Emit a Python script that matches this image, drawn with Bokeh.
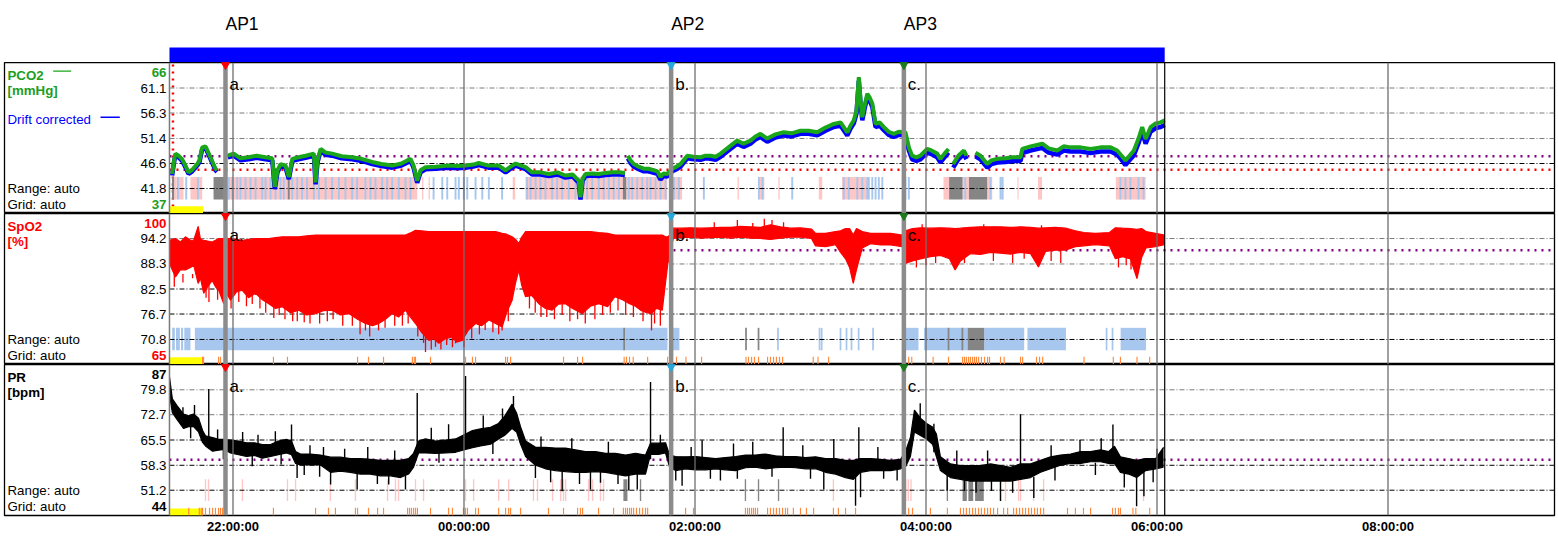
import math
from bokeh.plotting import figure
from bokeh.layouts import column
from bokeh.models import Range1d, Span, FixedTicker
from bokeh.core.properties import value
from bokeh.embed import file_html
from bokeh.resources import INLINE

nan = float("nan")

# ---------------- time axis (minutes relative to 22:00:00) ----------------
tick_min = [0, 120, 240, 360, 480, 600]
tick_lbl = ["22:00:00", "00:00:00", "02:00:00", "04:00:00", "06:00:00", "08:00:00"]
rec_start = -33.0
rec_end = 484.0
ap_name = ["AP1", "AP2", "AP3"]
ap_min = [-3.9, 227.6, 348.5]
ap_mark = ["a.", "b.", "c."]
ap_color = ["#FF0000", "#2AA8DC", "#1E7A1E"]

# ---------------- y axes ----------------
pco2_range = [37, 66]
pco2_ticks = [61.1, 56.3, 51.4, 46.6, 41.8]
pco2_tick_lbl = ["61.1", "56.3", "51.4", "46.6", "41.8"]
spo2_range = [65, 100]
spo2_ticks = [94.2, 88.3, 82.5, 76.7, 70.8]
spo2_tick_lbl = ["94.2", "88.3", "82.5", "76.7", "70.8"]
pr_range = [44, 87]
pr_ticks = [79.8, 72.7, 65.5, 58.3, 51.2]
pr_tick_lbl = ["79.8", "72.7", "65.5", "58.3", "51.2"]

pco2_purple = 48.0
pco2_red = 45.4
pco2_red_t = -31.2
spo2_purple = 91.5
pr_purple = 59.9

# ---------------- PCO2 (mmHg) ----------------
pco2_t = [-31.6, -30.6, -29.9, -28.3, -26.4, -24.7, -23.1, -21.2, -18.6, -17.4, -16.0, -14.3, -11.7, -9.1, -8.3, -5.5,
          -2.7, 0.3, 3.9, 8.1, 12.2, 16.9, 20.4, 21.7, 23.1, 24.7, 27.3, 29.0, 30.8, 34.0, 37.7, 42.0, 42.9, 43.9,
          45.5, 48.1, 51.5, 56.4, 61.9, 66.8, 72.3, 77.1, 82.7, 87.5, 92.2, 93.8, 95.7, 97.4, 100.0, 105.2, 112.1,
          116.6, 120.8, 124.9, 127.7, 132.7, 138.1, 141.6, 144.2, 146.8, 152.0, 155.4, 159.7, 164.1, 168.6, 172.7,
          176.4, 179.6, 180.5, 181.6, 183.1, 186.7, 190.0, 193.5, 197.2, 200.8, 203.6, 204.4, 205.1, 206.5, 208.2,
          210.7, 213.4, 215.8, 218.6, 220.5, 222.1, 223.6, 225.6, 228.2, 230.4, 232.5, 236.0, 239.2, 242.9, 245.5,
          248.1, 250.7, 253.3, 257.4, 261.9, 265.2, 268.8, 271.4, 274.0, 277.5, 281.8, 286.1, 290.1, 294.8, 299.0,
          303.5, 307.8, 312.1, 315.6, 319.1, 320.8, 322.5, 323.9, 325.1, 326.0, 326.9, 328.1, 329.5, 330.7, 332.1,
          333.8, 335.9, 338.1, 340.6, 343.3, 345.8, 349.3, 351.1, 352.8, 355.0, 357.1, 360.6, 362.8, 365.8, 367.5,
          369.6, 371.7, 372.9, 374.1, 376.8, 379.7, 381.0, 382.3, 383.6, 384.5, 385.7, 388.3, 391.8, 394.0, 397.0,
          401.3, 405.0, 409.1, 410.0, 414.3, 420.4, 423.7, 428.2, 431.5, 435.1, 440.3, 445.5, 450.7, 455.9, 459.3,
          461.6, 463.6, 465.7, 468.0, 470.4, 472.3, 474.1, 476.7, 479.3, 481.9, 484.0]
pco2_val = [44.6, 47.2, 48.5, 48.1, 47.4, 46.2, 44.9, 45.4, 46.5, 47.2, 49.7, 49.9, 47.8, 45.6, 45.3, nan,
            48.1, 48.5, 47.6, 47.8, 48.1, 47.8, 47.6, 42.1, 45.3, 46.5, 46.2, 44.0, 47.5, 47.8, 48.1, 48.5, 43.0, 47.2,
            49.4, 48.7, 48.5, 48.0, 47.8, 47.5, 46.9, 46.5, 46.2, 46.6, 47.5, 46.2, 43.3, 45.3, 45.9, 46.0, 46.2,
            46.1, 46.2, 46.4, 46.7, 46.2, 46.2, 45.3, 46.0, 46.6, 45.9, 44.9, 44.9, 44.6, 44.9, 44.3,
            44.5, 43.3, 40.1, 43.7, 44.6, 44.7, 44.6, 44.8, 44.9, 44.9, 44.8, nan, 48.1, 47.2, 46.5,
            46.0, 45.6, 45.6, 45.3, 45.1, 44.0, 44.7, 44.6, 45.6, 46.0, 46.5, 48.1, 47.9, 47.8, 48.1,
            48.1, 47.9, 48.5, 49.7, 51.0, 50.4, 51.0, 51.8, 52.3, 51.4, 52.2, 52.6, 52.4, 52.9, 52.9,
            52.6, 53.5, 54.2, 54.5, 52.6, 53.9, 54.9, 56.8, 63.2, 58.7, 55.5, 57.7, 60.0, 59.3, 58.1,
            54.2, 54.5, 53.6, 52.7, 52.3, 52.7, 52.6, 49.7, 48.1, 47.8, 48.1, 49.4, 49.1, 48.5, 47.5,
            48.5, 49.4, nan, 46.5, 48.1, 49.1, 48.1, nan, 47.2, nan, 48.7, 48.1, 46.5, 47.2, 47.5,
            47.6, 47.8, 47.8, 49.4, 49.9, 50.4, 49.5, 49.1, 49.9, 49.7, 49.7, 49.4, 49.7, 49.7, 49.1,
            48.1, 47.2, 48.1, 49.1, 51.4, 53.6, 51.3, 53.6, 54.3, 54.5, 54.9]
pco2_drift_corr = [44.3, 46.9, 48.2, 47.8, 47.1, 45.9, 44.6, 45.1, 46.2, 46.9, 49.4, 49.6, 47.5, 45.3, 45.0, nan,
                   47.8, 48.1, 47.2, 47.4, 47.7, 47.4, 47.2, 41.7, 44.9, 46.1, 45.8, 43.6, 47.1, 47.4, 47.7, 48.1, 42.6, 46.8,
                   49.0, 48.3, 48.1, 47.6, 47.4, 47.1, 46.5, 46.1, 45.8, 46.2, 47.1, 45.8, 42.9, 44.9, 45.5, 45.6, 45.8,
                   45.7, 45.8, 46.0, 46.3, 45.8, 45.8, 44.9, 45.6, 46.2, 45.5, 44.5, 44.5, 44.2, 44.5, 43.9,
                   44.1, 42.9, 39.7, 43.3, 44.2, 44.3, 44.2, 44.4, 44.5, 44.5, 44.4, nan, 47.6, 46.7, 46.0,
                   45.5, 45.1, 45.1, 44.8, 44.6, 43.5, 44.2, 44.1, 45.1, 45.5, 46.0, 47.6, 47.4, 47.3, 47.6,
                   47.5, 47.3, 47.9, 49.1, 50.4, 49.8, 50.4, 51.2, 51.7, 50.8, 51.6, 52.0, 51.8, 52.3, 52.3,
                   52.0, 52.9, 53.6, 53.9, 52.0, 53.3, 54.3, 56.2, 62.5, 58.1, 54.9, 57.1, 59.4, 58.7, 57.5,
                   53.6, 53.9, 53.0, 52.1, 51.7, 52.1, 52.0, 49.1, 47.4, 47.1, 47.4, 48.7, 48.4, 47.8, 46.8,
                   47.8, 48.7, nan, 45.8, 47.4, 48.4, 47.4, nan, 46.5, nan, 48.0, 47.4, 45.8, 46.5, 46.8,
                   46.9, 47.1, 47.1, 48.6, 49.1, 49.6, 48.7, 48.3, 49.1, 48.9, 48.9, 48.6, 48.9, 48.9, 48.3,
                   47.3, 46.3, 47.2, 48.2, 50.5, 52.7, 50.4, 52.7, 53.4, 53.6, 54.0]

# ---------------- SpO2 (%) envelope ----------------
spo2_t = [-33.0, -29.9, -27.3, -24.7, -22.1, -20.4, -18.1, -16.9, -15.2, -13.2, -10.8, -9.1, -7.4, -4.8, -3.4, -1.3,
          1.8, 4.8, 8.1, 11.7, 15.3, 18.6, 22.1, 25.6, 29.9, 34.2, 38.2, 42.9, 47.0, 51.5, 55.8, 60.2, 64.7, 68.8,
          72.5, 75.7, 79.2, 82.7, 86.0, 89.6, 92.2, 94.8, 97.9, 101.7, 104.2, 106.9, 110.4, 113.9, 116.1, 119.1,
          122.3, 126.0, 129.1, 132.9, 136.4, 139.8, 142.1, 145.0, 146.8, 148.5, 149.9, 152.0, 155.1, 158.9, 162.3,
          165.8, 169.1, 172.7, 176.4, 181.4, 185.7, 190.0, 194.6, 198.4, 202.3, 206.0, 209.1, 211.7, 214.8, 217.4,
          220.0, 223.0, 224.7, 225.9, 227.8, 228.7, 232.5, 237.7, 242.9, 248.1, 253.3, 258.5, 263.7, 268.8, 274.0,
          279.2, 284.4, 289.6, 294.8, 300.5, 302.6, 307.8, 313.0, 315.6, 318.2, 320.3, 322.2, 323.9, 326.9, 331.2,
          336.4, 341.6, 347.7, 349.3, 353.0, 357.1, 362.3, 367.5, 372.2, 375.1, 377.9, 383.1, 388.3, 393.5, 398.7,
          403.9, 409.1, 414.3, 418.4, 422.1, 427.2, 432.4, 437.6, 442.1, 448.0, 455.3, 458.4, 462.1, 466.2, 469.6,
          472.0, 474.3, 479.2, 483.9]
spo2_hi = [93.8, 94.2, 93.4, 94.6, 93.8, 93.8, 97.0, 94.0, 93.8, 93.6, 93.4, 93.8, 94.2, 94.2, 94.2, 94.2,
           94.0, 93.8, 94.0, 94.2, 94.2, 94.2, 94.4, 94.6, 94.6, 94.6, 94.8, 95.0, 95.0, 95.0, 95.0, 95.0, 95.0, 95.0,
           95.0, 95.0, 95.0, 95.0, 95.0, 95.0, 95.5, 96.1, 96.0, 95.8, 95.8, 95.8, 95.8, 95.8, 95.8, 95.8,
           95.8, 95.8, 95.8, 95.8, 95.8, 95.4, 95.2, 94.6, 94.0, 93.0, 94.5, 95.8, 95.8, 95.8, 95.8,
           95.8, 95.8, 95.8, 95.8, 95.8, 95.8, 95.6, 95.4, 95.0, 95.0, 95.0, 95.0, 95.0, 95.0, 95.0,
           95.0, 95.0, 94.6, 94.6, 95.4, 96.6, 96.6, 96.7, 96.6, 96.7, 96.8, 96.8, 97.0, 96.9, 96.8,
           97.4, 96.9, 96.6, 96.7, 96.4, 95.4, 95.4, 95.8, 96.0, 96.5, 96.5, 95.0, 96.5, 95.8, 95.4,
           95.4, 95.4, 95.0, 96.0, 96.5, 96.7, 96.6, 96.7, 96.6, 96.5, 96.6, 96.8, 96.9, 96.9, 96.9,
           96.8, 96.9, 96.8, 96.6, 96.7, 96.8, 96.6, 96.0, 95.6, 95.4, 95.6, 96.7, 96.6, 96.5, 96.3,
           96.5, 95.8, 95.4, 95.0]
spo2_lo = [88.4, 85.3, 87.0, 86.9, 87.5, 88.0, 83.8, 85.0, 81.5, 83.0, 84.5, 83.0, 82.2, 79.1, 81.5, 79.9,
           81.8, 82.2, 80.5, 81.5, 80.0, 79.1, 78.0, 78.4, 77.0, 77.6, 76.5, 76.8, 77.5, 77.6, 76.5, 76.8, 75.5, 74.5,
           74.0, 74.5, 75.5, 76.8, 76.0, 77.6, 76.0, 74.5, 72.5, 70.6, 71.0, 69.9, 71.0, 71.4, 70.2, 70.6,
           73.0, 74.5, 74.0, 75.3, 74.5, 73.7, 77.0, 79.9, 84.0, 86.9, 83.5, 80.7, 81.0, 79.1, 78.0,
           77.6, 79.0, 79.1, 78.0, 76.8, 78.5, 79.1, 78.4, 80.7, 80.0, 79.1, 78.5, 77.6, 77.0, 76.8,
           78.0, 77.6, 84.0, 88.4, 92.3, 94.2, 94.4, 94.5, 94.3, 94.4, 94.5, 94.3, 94.5, 94.3, 94.2,
           94.0, 94.3, 94.5, 94.5, 94.2, 92.5, 92.3, 92.8, 91.0, 89.5, 87.5, 83.8, 87.0, 92.0, 93.0,
           92.7, 92.7, 92.3, 88.4, 89.0, 89.5, 90.0, 90.3, 89.5, 86.9, 89.0, 90.7, 90.5, 91.0, 90.8,
           90.6, 91.0, 90.7, 87.6, 91.2, 91.5, 91.5, 92.3, 92.5, 92.8, 92.5, 89.5, 90.0, 89.5, 84.9,
           89.8, 92.0, 92.3, 92.8]
# deep desaturation spikes before AP2 (drawn down from the body of the trace)
spo2_spike_t = [-30.5, -26.0, -21.0, -14.0, -12.5, -8.0, -1.0, 3.0, 7.0, 10.0, 14.0, 17.0, 21.2, 24.0, 27.0, 31.0,
                33.4, 37.0, 40.0, 45.0, 49.0, 52.0, 57.0, 62.0, 66.0, 68.8, 71.0, 75.6, 79.0, 84.0, 88.0, 91.0,
                96.0, 99.0, 100.0, 103.0, 105.2, 108.0, 111.0, 114.0, 115.6, 117.1, 120.0, 124.0, 128.0, 131.0,
                135.0, 138.0, 139.8, 143.0, 154.0, 157.0, 160.0, 163.0, 167.0, 171.0, 175.0, 179.0, 183.0, 188.0,
                192.0, 196.0, 200.0, 204.0, 208.0, 213.0, 217.4, 219.0, 222.0]
spo2_spike_min = [83.0, 84.0, 85.0, 80.5, 79.5, 80.0, 78.0, 79.5, 78.5, 79.0, 78.0, 77.0, 75.8, 76.5, 75.5, 75.0,
                  75.0, 74.8, 74.5, 74.5, 75.0, 75.5, 74.0, 74.0, 72.0, 72.9, 71.5, 72.9, 73.5, 74.0, 74.0, 74.5,
                  71.5, 70.0, 67.9, 68.5, 69.1, 68.5, 69.5, 69.0, 69.9, 70.3, 69.0, 71.0, 72.0, 73.0,
                  72.5, 72.0, 72.9, 75.0, 78.0, 77.0, 76.0, 76.0, 75.5, 76.5, 75.0, 75.5, 74.5, 75.5,
                  76.5, 77.0, 77.5, 76.5, 76.0, 75.0, 72.9, 74.5, 74.0]
# short dips / peaks after AP2
spo2_dip_t = [355.0, 360.0, 365.0, 380.0, 395.0, 405.0, 411.0, 425.0, 430.0, 460.0, 464.0, 466.5]
spo2_dip_min = [87.5, 88.0, 88.5, 88.5, 89.0, 88.5, 89.5, 89.0, 88.5, 87.5, 88.0, 87.0]
spo2_peak_t = [250.0, 262.0, 270.0, 276.0, 280.0, 286.0, 358.0, 390.0, 420.0]
spo2_peak_max = [98.0, 98.5, 97.8, 98.8, 98.5, 98.0, 97.5, 97.5, 97.3]

# ---------------- PR (bpm) envelope ----------------
pr_t = [-33.0, -31.5, -29.0, -25.7, -23.1, -20.5, -17.9, -15.8, -14.3, -10.6, -7.5, -4.4, -1.3, 2.9, 7.0, 11.2,
        15.3, 19.5, 23.6, 27.8, 30.4, 32.5, 35.1, 40.3, 45.5, 50.7, 55.8, 61.0, 66.2, 71.4, 76.6, 81.8, 87.0,
        91.2, 93.8, 96.4, 100.0, 105.2, 110.4, 115.6, 120.8, 124.4, 128.6, 133.8, 137.9, 141.0, 145.0, 147.3,
        149.4, 152.0, 157.2, 162.3, 167.5, 172.7, 177.9, 183.1, 188.3, 193.5, 198.7, 203.9, 209.1, 214.3, 216.9,
        221.0, 224.7, 226.8, 229.9, 235.1, 240.3, 245.5, 250.7, 255.9, 261.1, 266.3, 271.4, 276.6, 281.8, 287.0,
        292.2, 297.4, 302.6, 307.8, 313.0, 318.2, 322.3, 325.9, 331.2, 336.4, 341.6, 346.8, 349.3, 351.9, 354.0,
        357.1, 360.3, 363.4, 365.4, 367.5, 372.7, 377.9, 383.1, 388.3, 393.5, 398.7, 403.9, 409.1, 414.3, 419.5,
        424.7, 429.9, 435.1, 440.3, 445.5, 450.7, 454.8, 457.9, 461.0, 465.2, 469.4, 474.1, 479.3, 483.4]
pr_hi = [83.5, 77.2, 75.2, 72.9, 72.4, 72.9, 71.7, 68.2, 66.7, 66.2, 65.7, 65.7, 65.5, 65.2, 64.7, 64.7,
         64.2, 64.2, 65.2, 65.7, 65.2, 62.2, 61.5, 61.5, 61.2, 60.6, 60.6, 60.2, 60.2, 60.0, 59.7, 59.7, 59.7,
         60.2, 61.7, 65.2, 65.8, 65.2, 65.5, 65.8, 67.2, 68.2, 68.7, 69.1, 70.2, 72.2, 75.7, 73.2,
         69.2, 65.2, 63.4, 63.4, 63.2, 63.2, 62.7, 62.2, 62.2, 61.7, 61.7, 61.2, 61.7, 61.2, 64.6,
         64.6, 64.7, 61.2, 60.8, 60.7, 60.8, 60.5, 60.2, 60.5, 60.8, 61.2, 61.2, 61.5, 61.0, 60.8,
         60.8, 60.5, 60.7, 60.2, 60.2, 59.7, 59.7, 60.2, 60.2, 60.0, 59.7, 60.0, 62.2, 66.2, 74.0,
         71.7, 70.2, 69.2, 67.2, 60.7, 58.7, 58.2, 58.2, 58.2, 58.7, 58.2, 57.7, 58.7, 58.7, 59.7,
         60.7, 61.2, 61.5, 62.2, 62.2, 62.7, 62.2, 63.7, 60.7, 60.2, 59.7, 60.2, 60.2, 63.4]
pr_lo = [78.5, 73.3, 71.3, 68.8, 69.3, 69.3, 67.8, 64.8, 63.8, 62.3, 62.6, 62.8, 61.8, 61.3, 60.8, 61.1,
         60.3, 60.8, 61.3, 61.8, 61.3, 58.8, 58.4, 58.4, 58.4, 56.3, 56.6, 56.3, 55.8, 55.8, 55.3, 55.3, 54.8,
         55.8, 57.8, 61.8, 61.8, 61.7, 61.8, 62.0, 62.8, 63.3, 63.8, 64.3, 65.8, 66.8, 68.8, 67.8,
         64.3, 60.8, 58.3, 57.3, 56.8, 56.5, 56.3, 56.3, 56.5, 56.3, 55.8, 55.3, 55.8, 55.8, 61.4,
         61.4, 61.8, 57.8, 56.8, 57.3, 57.0, 57.0, 57.3, 57.0, 56.8, 57.6, 57.8, 57.3, 57.6, 57.8,
         57.6, 57.3, 57.3, 56.3, 55.8, 54.8, 54.3, 56.3, 56.8, 56.8, 56.8, 57.3, 57.8, 60.8, 67.8,
         66.8, 65.8, 64.3, 60.8, 56.8, 54.8, 54.3, 53.8, 53.8, 53.8, 53.8, 53.8, 54.3, 54.8, 56.3,
         57.3, 58.3, 58.8, 58.8, 59.3, 59.3, 58.8, 58.8, 56.3, 55.8, 54.8, 56.8, 57.3, 57.8]
pr_spike_t = [-26.0, -12.6, 30.4, 95.7, 120.8, 145.7, 216.9, 243.7, 285.8, 312.1, 325.1, 364.1, 409.1, 457.1,
              33.3, 37.0, 50.7, 64.5, 80.9, 89.6, 157.1, 171.0, 185.7, 190.9, 205.6, 210.0, 233.3, 253.2, 306.9,
              319.1, 323.4, 326.0, 371.0, 398.7, 416.0, 469.4, 473.2,
              -20.0, -8.0, 5.0, 13.0, 22.0, 40.0, 47.0, 58.0, 70.0, 84.0, 103.0, 112.0, 130.0, 140.0, 160.0,
              176.0, 195.0, 222.0, 238.0, 260.0, 270.0, 296.0, 335.0, 357.0, 376.0, 392.0, 425.0, 440.0, 451.0,
              480.0,
              -22.0, -5.0, 10.0, 25.0, 45.0, 75.0, 107.0, 135.0, 165.0, 180.0, 200.0, 230.0, 248.0, 262.0, 280.0,
              300.0, 338.0, 345.0, 380.0, 386.0, 394.0, 405.0, 427.0, 448.0, 463.0, 478.0]
pr_spike_peak = [74.8, 80.0, 69.9, 78.9, 83.7, 78.0, 82.0, 65.4, 69.1, 65.8, 69.1, 70.1, 72.8, 69.9,
                 54.7, 55.5, 52.8, 51.4, 52.8, 51.4, 54.7, 50.9, 51.4, 53.3, 51.1, 51.4, 52.5, 54.0, 51.4,
                 55.4, 46.8, 49.2, 51.1, 48.1, 49.0, 46.6, 49.5,
                 75.5, 68.5, 67.8, 67.0, 68.0, 64.0, 63.5, 63.0, 63.5, 62.5, 69.0, 70.0, 72.5, 74.5, 66.5,
                 66.0, 65.0, 67.0, 63.5, 64.5, 65.0, 64.0, 63.5, 76.0, 62.5, 62.5, 64.0, 65.5, 66.0,
                 63.0,
                 66.0, 60.0, 58.0, 58.5, 55.0, 53.0, 59.0, 61.5, 53.5, 53.0, 53.0, 54.0, 54.5, 54.5, 55.0,
                 54.5, 54.5, 54.0, 51.0, 50.5, 51.0, 50.5, 54.0, 55.5, 52.0, 53.5]
pr_spike_base = [70.0, 65.0, 63.0, 62.0, 64.0, 70.0, 60.0, 59.0, 59.0, 58.0, 58.0, 62.0, 56.0, 60.0,
                 60.0, 60.0, 58.0, 58.0, 57.0, 57.0, 60.0, 58.0, 58.0, 58.0, 58.0, 58.0, 58.0, 58.0, 58.0,
                 58.0, 57.0, 57.0, 56.0, 55.0, 55.0, 56.0, 57.0,
                 71.0, 64.0, 63.0, 62.5, 63.0, 60.0, 59.0, 58.0, 58.0, 57.5, 64.0, 64.0, 66.0, 68.0, 60.0,
                 59.5, 59.0, 63.0, 59.0, 59.0, 59.5, 59.0, 58.5, 70.0, 56.5, 56.0, 59.0, 60.5, 61.0,
                 58.5,
                 70.0, 63.5, 62.0, 62.0, 59.0, 57.0, 63.0, 65.0, 58.0, 57.0, 57.0, 58.0, 58.0, 58.0, 58.0,
                 58.0, 58.0, 58.0, 55.0, 55.0, 55.0, 55.0, 58.0, 59.0, 57.0, 57.5]

# ---------------- event marks ----------------
ev1_start = [-30.6, -28.3, -22.1, -17.7, -3.0, 29.5, 98.2, 101.6, 145.3, 151.9, 204.3, 228.2, 262.1, 273.5, 283.3,
             304.3, 316.4, 369.1, 379.0, 391.8, 399.6, 407.5, 418.2, 458.6,
             -31.7, -10.1, 28.4, 202.5, 372.0, 382.3]
ev1_end = [-29.2, -25.7, -18.6, -16.0, 28.4, 95.7, 98.9, 102.3, 146.6, 202.5, 225.6, 233.3, 262.8, 276.0, 284.0,
           306.1, 329.3, 372.0, 382.3, 394.4, 400.4, 408.1, 420.3, 474.1,
           -30.6, -3.9, 29.5, 204.3, 379.0, 391.8]
ev1_kind = ["p"] * 24 + ["g"] * 6
ev1_blue = [-28.6, -24.3, -18.2, -2.2, -0.4, 2.2, 3.9, 6.5, 9.1, 11.7, 15.2, 16.9, 19.5, 22.1, 24.7, 26.4, 30.8,
            33.4, 35.9, 38.5, 42.0, 44.6, 48.1, 51.5, 55.0, 58.4, 61.9, 64.5, 68.8, 71.4, 74.0, 77.5, 80.1, 82.7,
            86.1, 89.6, 92.2, 104.2, 108.7, 111.3, 115.6, 117.3, 119.9, 121.7, 126.0, 129.5, 132.9, 139.8, 152.8,
            154.6, 157.2, 159.7, 162.3, 165.8, 168.4, 171.0, 174.4, 177.9, 181.4, 184.0, 186.6, 190.0, 192.6, 195.2,
            197.8, 200.4, 205.6, 207.4, 210.0, 212.6, 215.2, 216.9, 219.5, 222.1, 224.7, 229.0, 231.6, 244.6, 273.2,
            275.1, 290.5, 317.3, 319.9, 324.3, 326.9, 329.5, 330.3, 332.1, 333.8, 335.5, 337.3, 349.3, 351.1, 380.4,
            393.5, 398.7, 399.6, 461.0, 463.6, 466.2, 470.4, 473.0]
ev2_start = [-31.6, -29.6, -27.0, -25.3, -19.8, 227.3, 349.6, 359.0, 390.2, 412.7, 461.1, 381.6]
ev2_end = [-30.2, -27.6, -25.9, -22.1, 225.7, 231.9, 356.1, 381.6, 411.0, 432.7, 474.3, 390.2]
ev2_kind = ["b"] * 11 + ["g"]
ev2_thin = [283.1, 304.7, 305.8, 315.6, 318.7, 321.3, 325.0, 332.5, 453.8, 456.9, 203.2, 266.5, 273.0, 371.7, 378.9]
ev2_thin_kind = ["b"] * 10 + ["g"] * 5
ev3_start = [202.8, 379.0, 382.0, 385.5]
ev3_end = [204.9, 381.2, 384.5, 390.0]
ev3_kind = ["g", "g", "g", "g"]
ev3_thin = [-14.3, -12.7, 4.9, 28.3, 32.5, 50.6, 63.6, 80.3, 84.4, 86.0, 94.8, 99.0, 120.8, 125.0, 138.0, 143.2,
            156.1, 158.2, 166.0, 170.2, 171.7, 172.8, 184.7, 186.8, 190.9, 192.5, 311.9, 349.5, 350.8, 352.2, 398.7,
            401.3, 408.1, 409.1, 415.9, 421.1, 473.0, 211.7, 266.2, 273.0, 283.4, 371.1]
ev3_thin_kind = ["p"] * 37 + ["g"] * 5

art2 = [-15.8, -15.3, -7.5, -6.5, 21.0, 28.3, 64.7, 70.4, 78.2, 93.2, 94.2, 94.8, 102.6, 120.8, 124.4, 126.0, 141.6,
        142.6, 144.2, 171.7, 179.0, 181.6, 203.2, 204.4, 206.0, 207.9, 215.4, 225.8, 230.4, 235.3, 243.4, 266.5,
        267.8, 269.4, 270.9, 273.0, 277.7, 279.2, 280.8, 282.3, 283.9, 285.5, 301.4, 303.9, 309.4, 351.0, 352.6,
        363.7, 371.7, 379.0, 380.0, 381.0, 382.1, 383.1, 384.2, 385.2, 386.2, 387.3, 388.8, 390.4, 392.0, 393.0,
        398.7, 400.6, 409.1, 410.2, 417.4, 419.0, 420.6, 442.1, 457.3, 461.0, 469.6, 476.2]
art3 = [-23.0, -17.5, -16.5, -15.8, -14.3, -12.2, -10.6, -9.1, -7.5, -6.5, -5.5, 21.0, 42.9, 49.6, 53.2, 63.6, 64.7,
        70.4, 75.1, 78.2, 90.7, 91.7, 92.7, 93.8, 94.8, 95.8, 102.6, 112.0, 114.0, 119.7, 120.8, 121.8, 126.0,
        127.5, 138.0, 141.6, 143.2, 144.2, 149.4, 163.9, 171.7, 179.0, 180.5, 181.6, 189.9, 197.7, 202.8, 203.9,
        204.9, 206.0, 207.0, 208.1, 209.6, 211.2, 212.8, 214.3, 215.4, 227.3, 235.1, 239.2, 266.2, 267.3, 268.3,
        269.4, 270.4, 271.4, 272.5, 277.7, 279.2, 280.8, 282.3, 283.9, 285.5, 287.0, 288.1, 291.1, 294.8, 297.9,
        301.6, 311.9, 314.5, 318.2, 323.4, 349.3, 351.0, 353.0, 362.3, 371.1, 377.9, 379.5, 381.0, 382.6, 384.2,
        385.7, 387.3, 388.8, 390.4, 392.0, 393.5, 395.1, 397.2, 400.3, 402.4, 405.5, 407.0, 408.6, 410.2, 411.7,
        413.3, 414.8, 416.4, 417.9, 419.5, 421.1, 433.5, 437.6, 441.8, 445.5, 456.9, 458.4, 460.0, 461.0, 467.5,
        469.0, 476.2]
yellow_start, yellow_end = -33.0, -15.6

# ---------------- layout / style ----------------
ML = 4          # frame left (page px)
FW = 1550       # frame width
FH = 151        # panel frame height
X0, X1 = -118.70, 686.49
FONT = value("Liberation Sans")
GREEN_TXT = "#1E9E1E"
GREEN_LINE = "#1AA61A"
BLUE = "#0000FF"
RED = "#FF0000"
KIND_COL = {"p": "#FFC6C6", "b": "#A8C7EE", "g": "#858585"}
ORANGE = "#FF8A3D"
xr = Range1d(X0, X1)


def xo(px):
    return X0 + px * (X1 - X0) / FW


def yo(rng, px):
    lo, hi = rng
    return hi - px * (hi - lo) / FH


def make_fig(rng, h, axis=False):
    p = figure(width=ML + FW + 2, height=h, x_range=xr, y_range=Range1d(rng[0], rng[1]),
               output_backend="svg", toolbar_location=None,
               x_axis_location=("below" if axis else None), y_axis_location=None,
               min_border_left=ML, min_border_right=2, min_border_top=0,
               min_border_bottom=(25 if axis else 0))
    p.xgrid.visible = False
    p.ygrid.visible = False
    p.outline_line_color = "black"
    p.outline_line_width = 1.3
    p.background_fill_color = "white"
    p.border_fill_color = "white"
    return p


def grid_and_labels(p, rng, ticks, tick_lbl, grid_cols, name, unit, col, top_lbl, bot_lbl):
    n = len(ticks)
    p.segment(x0=[rec_start] * n, x1=[X1] * n, y0=ticks, y1=ticks, line_color=grid_cols,
              line_width=1, line_dash="5 2 1 2")
    p.text(x=[rec_start] * n, y=ticks, text=tick_lbl, x_offset=-3, text_font=FONT, text_font_size="13.3px",
           text_color="black", text_align=value("right"), text_baseline=value("middle"))
    p.text(x=[rec_start, rec_start], y=[yo(rng, 9.5), yo(rng, 142)], text=[top_lbl, bot_lbl], x_offset=-3,
           text_font=FONT, text_font_size="13.3px", text_font_style=value("bold"), text_color=col,
           text_align=value("right"), text_baseline=value("middle"))
    p.text(x=[X0, X0], y=[yo(rng, 12.5), yo(rng, 28)], text=[name, unit], x_offset=3, text_font=FONT,
           text_font_size="13.3px", text_font_style=value("bold"), text_color=col,
           text_baseline=value("middle"))
    p.text(x=[X0, X0], y=[yo(rng, 126), yo(rng, 142)], text=["Range: auto", "Grid: auto"], x_offset=3,
           text_font=FONT, text_font_size="13.3px", text_color="black", text_baseline=value("middle"))


def vlines(p, rng):
    for t in tick_min:
        p.add_layout(Span(location=t, dimension="height", line_color="#6E6E6E", line_width=1.3))
    p.add_layout(Span(location=rec_start, dimension="height", line_color="#7A7A7A", line_width=1.5))
    p.add_layout(Span(location=rec_end, dimension="height", line_color="black", line_width=1.2))
    for t in ap_min:
        p.add_layout(Span(location=t, dimension="height", line_color="#8C8C8C", line_width=4.5))
    p.scatter(x=ap_min, y=[yo(rng, 2.5)] * 3, marker="inverted_triangle", size=8, fill_color=ap_color,
              line_color=ap_color, level="overlay")
    p.text(x=ap_min, y=[yo(rng, 22)] * 3, text=ap_mark, x_offset=4, text_font=FONT, text_font_size="17px",
           text_color="black", text_baseline=value("alphabetic"), level="overlay")


# ---------------- top strip ----------------
top = figure(width=ML + FW + 2, height=62, x_range=xr, y_range=Range1d(0, 62), output_backend="svg",
             toolbar_location=None, x_axis_location=None, y_axis_location=None,
             min_border_left=ML, min_border_right=2, min_border_top=0, min_border_bottom=0)
top.outline_line_color = None
top.xgrid.visible = False
top.ygrid.visible = False
top.quad(left=[rec_start], right=[rec_end], bottom=[0], top=[15], fill_color=BLUE, line_color=None)
top.text(x=ap_min, y=[39] * 3, text=ap_name, text_font=FONT, text_font_size="17.5px", text_color="black",
         text_baseline=value("middle"))

# ---------------- panel 1: PCO2 ----------------
p1 = make_fig(pco2_range, FH)
p1.segment(x0=[pco2_red_t], x1=[pco2_red_t], y0=[37], y1=[66], line_color=RED, line_width=2.5, line_dash="2 5")
p1.quad(left=ev1_start, right=ev1_end, bottom=39.7, top=44.0,
        fill_color=[KIND_COL[k] for k in ev1_kind], line_color=None)
p1.vbar(x=ev1_blue, width=1.0, bottom=39.7, top=44.0, fill_color=KIND_COL["b"], line_color=None)
p1.quad(left=[yellow_start], right=[yellow_end], bottom=37, top=38.4, fill_color="#FFFF00", line_color=None)
grid_and_labels(p1, pco2_range, pco2_ticks, pco2_tick_lbl, ["#7A7A7A"] * 3 + ["black"] * 2,
                "PCO2", "[mmHg]", GREEN_TXT, "66", "37")
p1.segment(x0=[rec_start, rec_start], x1=[X1, X1], y0=[pco2_purple, pco2_red], y1=[pco2_purple, pco2_red],
           line_color=["#800080", RED], line_width=2.5, line_dash="2 5")
p1.line(pco2_t, pco2_drift_corr, line_color=BLUE, line_width=4.5)
p1.line(pco2_t, pco2_val, line_color=GREEN_LINE, line_width=4)
p1.text(x=[X0], y=[yo(pco2_range, 57)], text=["Drift corrected"], x_offset=3, text_font=FONT,
        text_font_size="13.3px", text_color=BLUE, text_baseline=value("middle"))
p1.segment(x0=[xo(48.7)], x1=[xo(66.7)], y0=[yo(pco2_range, 8.7)], y1=[yo(pco2_range, 8.7)],
           line_color=GREEN_LINE, line_width=1.2)
p1.segment(x0=[xo(96)], x1=[xo(115.3)], y0=[yo(pco2_range, 54.7)], y1=[yo(pco2_range, 54.7)],
           line_color=BLUE, line_width=1.5)
vlines(p1, pco2_range)

# ---------------- panel 2: SpO2 ----------------
p2 = make_fig(spo2_range, FH)
p2.quad(left=ev2_start, right=ev2_end, bottom=68.3, top=73.5,
        fill_color=[KIND_COL[k] for k in ev2_kind], line_color=None)
p2.vbar(x=ev2_thin, width=0.9, bottom=68.3, top=73.5, fill_color=[KIND_COL[k] for k in ev2_thin_kind],
        line_color=None)
p2.quad(left=[yellow_start], right=[yellow_end], bottom=65, top=66.7, fill_color="#FFFF00", line_color=None)
p2.vbar(x=art2, width=0.6, bottom=65, top=66.8, fill_color=ORANGE, line_color=None)
grid_and_labels(p2, spo2_range, spo2_ticks, spo2_tick_lbl, ["#7A7A7A"] * 2 + ["black"] * 3,
                "SpO2", "[%]", RED, "100", "65")
p2.segment(x0=[rec_start], x1=[X1], y0=[spo2_purple], y1=[spo2_purple], line_color="#800080",
           line_width=2.5, line_dash="2 5")
p2.varea(x=spo2_t, y1=spo2_lo, y2=spo2_hi, fill_color=RED)
p2.line(spo2_t, spo2_lo, line_color=RED, line_width=1.2)
p2.line(spo2_t, spo2_hi, line_color=RED, line_width=1.2)
p2.segment(x0=spo2_spike_t, x1=spo2_spike_t, y0=[86] * len(spo2_spike_t), y1=spo2_spike_min,
           line_color=RED, line_width=1.3)
p2.segment(x0=spo2_dip_t, x1=spo2_dip_t, y0=[93] * len(spo2_dip_t), y1=spo2_dip_min,
           line_color=RED, line_width=1.3)
p2.segment(x0=spo2_peak_t, x1=spo2_peak_t, y0=[96] * len(spo2_peak_t), y1=spo2_peak_max,
           line_color=RED, line_width=1.3)
vlines(p2, spo2_range)

# ---------------- panel 3: PR ----------------
p3 = make_fig(pr_range, FH + 25, axis=True)
p3.quad(left=ev3_start, right=ev3_end, bottom=48.1, top=54.3,
        fill_color=[KIND_COL[k] for k in ev3_kind], line_color=None)
p3.vbar(x=ev3_thin, width=0.7, bottom=48.1, top=54.3, fill_color=[KIND_COL[k] for k in ev3_thin_kind],
        line_color=None)
p3.quad(left=[yellow_start], right=[yellow_end], bottom=44, top=46.0, fill_color="#FFFF00", line_color=None)
p3.vbar(x=art3, width=0.6, bottom=44, top=46.2, fill_color=ORANGE, line_color=None)
grid_and_labels(p3, pr_range, pr_ticks, pr_tick_lbl, ["#7A7A7A"] * 2 + ["black"] * 3,
                "PR", "[bpm]", "black", "87", "44")
p3.segment(x0=[rec_start], x1=[X1], y0=[pr_purple], y1=[pr_purple], line_color="#800080",
           line_width=2.5, line_dash="2 5")
p3.varea(x=pr_t, y1=pr_lo, y2=pr_hi, fill_color="black")
p3.line(pr_t, pr_lo, line_color="black", line_width=1.2)
p3.line(pr_t, pr_hi, line_color="black", line_width=1.2)
p3.segment(x0=pr_spike_t, x1=pr_spike_t, y0=pr_spike_base, y1=pr_spike_peak, line_color="black", line_width=1.4)
vlines(p3, pr_range)

ax = p3.xaxis[0]
ax.ticker = FixedTicker(ticks=tick_min)
ax.major_label_overrides = {t: l for t, l in zip(tick_min, tick_lbl)}
ax.major_label_text_font = "Liberation Sans"
ax.major_label_text_font_style = "bold"
ax.major_label_text_font_size = "13px"
ax.major_label_text_color = "black"
ax.axis_line_color = None
ax.major_tick_line_color = None
ax.minor_tick_line_color = None
ax.major_label_standoff = -3

layout = column(top, p1, p2, p3, spacing=0)
open("out.html", "w").write(file_html(layout, INLINE, "chart"))
